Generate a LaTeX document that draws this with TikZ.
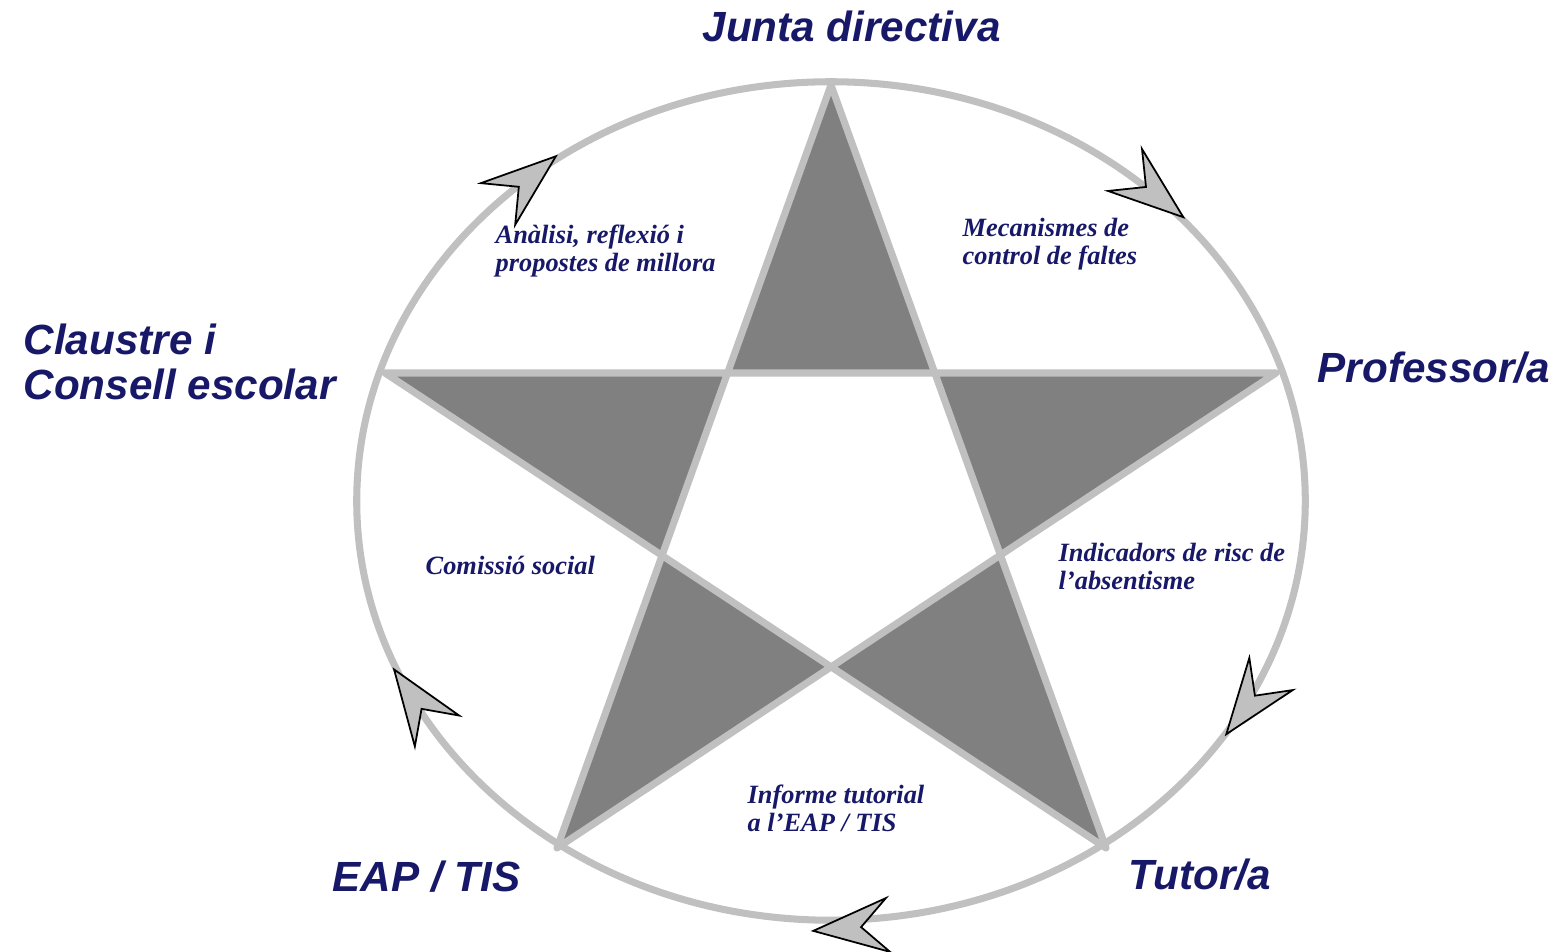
\documentclass[tikz,border=0pt]{standalone}
\usepackage{fontspec}
\newfontfamily\rolefont{Liberation Sans}
\newfontfamily\notefont{Liberation Serif}
\usetikzlibrary{positioning}
\definecolor{navy}{RGB}{24,24,104}
\definecolor{rim}{RGB}{192,192,192}
\definecolor{spike}{RGB}{128,128,128}
\tikzstyle{role}=[text=navy,inner sep=0pt,anchor=base west,align=left,
  font=\rolefont\bfseries\itshape\fontsize{12}{12.8}\selectfont]
\tikzstyle{note}=[text=navy,inner sep=0pt,anchor=base west,align=left,
  font=\notefont\bfseries\itshape\fontsize{7.5}{8}\selectfont]
\tikzset{cyclearrow/.pic={
  \filldraw[fill=rim,draw=black,line width=0.5pt]
    (0,27) -- (75,0) -- (0,-27) -- (27,0) -- cycle;}}

\begin{document}
\begin{tikzpicture}[x=0.01cm,y=0.01cm]
    \fill[white] (0,0) rectangle (1564,952);
    \useasboundingbox (0,0) rectangle (1564,952);
    % star points
    \coordinate (jd) at (831,867);
    \coordinate (prof) at (1276,579);
    \coordinate (tut) at (1106,104);
    \coordinate (eap) at (557,104);
    \coordinate (cl) at (385,579);
    %
    \coordinate (ul) at (intersection of jd--eap and cl--prof);
    \coordinate (ur) at (intersection of jd--tut and cl--prof);
    \coordinate (rt) at (intersection of jd--tut and eap--prof);
    \coordinate (bt) at (intersection of eap--prof and cl--tut);
    \coordinate (lt) at (intersection of cl--tut and jd--eap);

    \draw[rim,line width=2pt] (831,451) ellipse [x radius=4.74cm,y radius=4.19cm];

    \fill[spike] (jd) -- (ul) -- (ur) -- cycle;
    \fill[spike] (prof) -- (ur) -- (rt) -- cycle;
    \fill[spike] (tut) -- (rt) -- (bt) -- cycle;
    \fill[spike] (eap) -- (bt) -- (lt) -- cycle;
    \fill[spike] (cl) -- (lt) -- (ul) -- cycle;
    \draw[rim,line width=2pt,line join=round]
      (jd) -- (eap) -- (prof) -- (cl) -- (tut) -- cycle;

    % clockwise arrows
    \pic[rotate=39.5] at (498,748) {cyclearrow};
    \pic[rotate=-39] at (1125,782) {cyclearrow};
    \pic[rotate=-126.6] at (1271,278) {cyclearrow};
    \pic[rotate=184.5] at (888,27) {cyclearrow};
    \pic[rotate=124.9] at (437,221) {cyclearrow};

    \node[role] (juntalbl) at (702,910) {Junta directiva};
    \node[role] (proflbl) at (1317,569) {Professor/a};
    \node[role] (tutlbl) at (1128,62) {Tutor/a};
    \node[role] (eaplbl) at (332,60) {EAP / TIS};
    \node[role] (cllbl) at (23,552) {Claustre i\\Consell escolar};

    % base is the last line here
    \node[note] (analisi) at (495,680) {Anàlisi, reflexió i\\propostes de millora};
    \node[note] (mecan) at (962,687) {Mecanismes de\\control de faltes};
    \node[note] (indic) at (1058,362) {Indicadors de risc de\\l’absentisme};
    \node[note] (comis) at (425,377) {Comissió social};
    \node[note] (inform) at (747,120) {Informe tutorial\\a l’EAP / TIS};
\end{tikzpicture}
\end{document}
